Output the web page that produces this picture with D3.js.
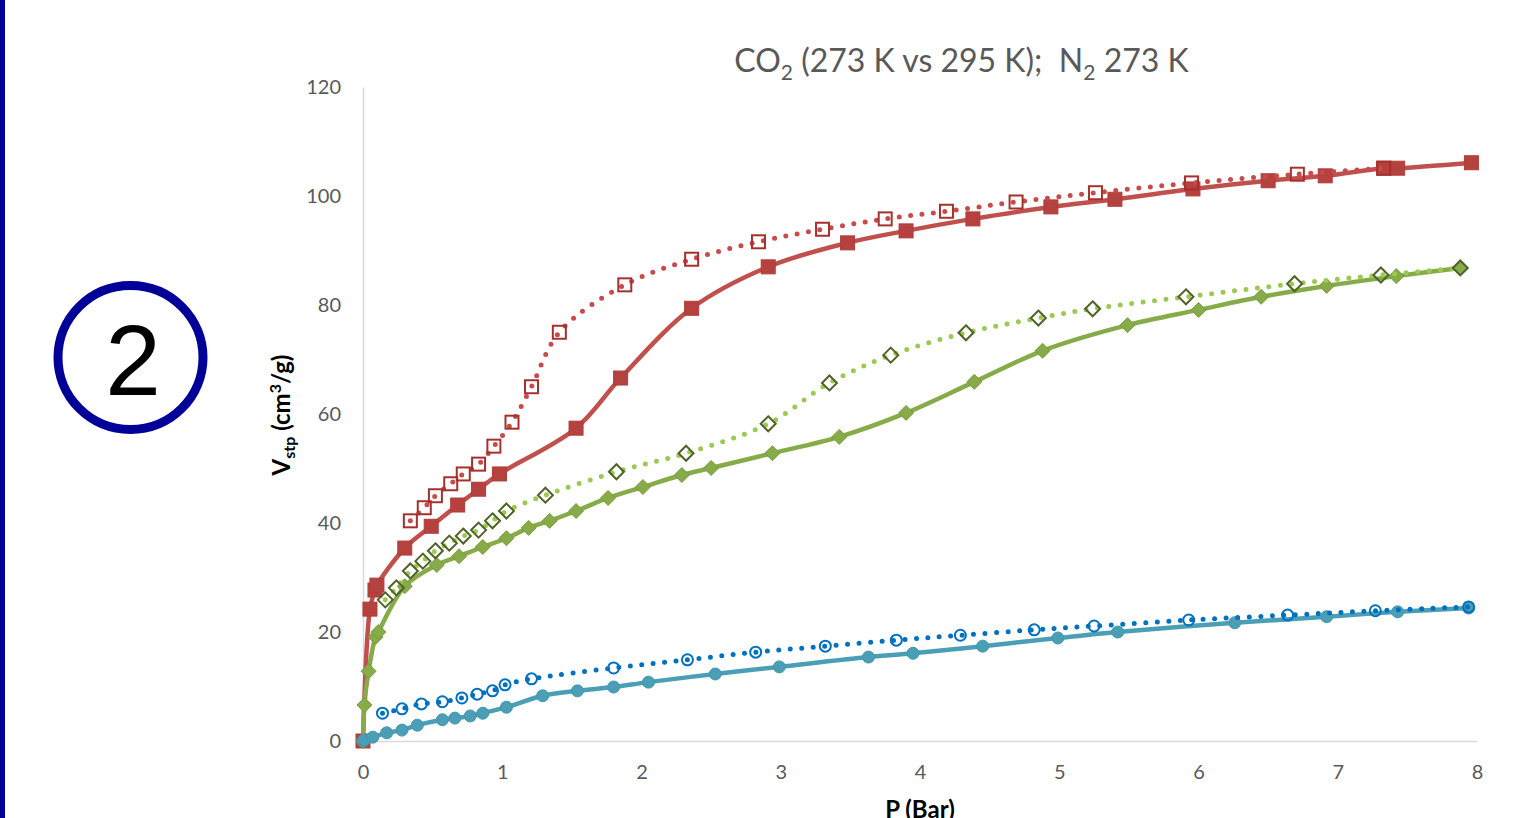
<!DOCTYPE html>
<html>
<head>
<meta charset="utf-8">
<script src="https://cdn.jsdelivr.net/npm/d3@7"></script>
<style>
  body { margin: 0; background: #fff; }
  svg { display: block; }
  text { font-family: Lato, "Open Sans", sans-serif; }
</style>
</head>
<body>
<div id="chart"></div>
<script>
// CO2 at the lower temperature (open squares, dotted) and the higher one (filled squares)
var redSolidX = [0, 0.05, 0.086, 0.1, 0.30, 0.49, 0.68, 0.83, 0.98, 1.53, 1.85, 2.36, 2.91, 3.48, 3.90, 4.38, 4.94, 5.40, 5.96, 6.50, 6.91, 7.33, 7.43, 7.96];
var redSolidY = [0, 24.2, 27.7, 28.6, 35.4, 39.4, 43.3, 46.2, 49.0, 57.4, 66.6, 79.4, 87.0, 91.4, 93.6, 95.8, 98.0, 99.4, 101.3, 102.8, 103.7, 105.1, 105.1, 106.1];
var redDotX = [0.34, 0.44, 0.52, 0.63, 0.72, 0.83, 0.94, 1.07, 1.21, 1.41, 1.88, 2.36, 2.84, 3.30, 3.75, 4.19, 4.69, 5.26, 5.95, 6.71, 7.33];
var redDotY = [40.4, 42.8, 45.0, 47.2, 49.0, 50.8, 54.1, 58.5, 65.0, 75.0, 83.7, 88.4, 91.6, 93.9, 95.8, 97.2, 98.9, 100.6, 102.4, 104.0, 105.1];

var greenSolidX = [0, 0.01, 0.04, 0.09, 0.11, 0.30, 0.53, 0.69, 0.86, 1.03, 1.19, 1.34, 1.53, 1.76, 2.01, 2.29, 2.50, 2.94, 3.42, 3.90, 4.39, 4.88, 5.49, 6.00, 6.45, 6.92, 7.42, 7.88];
var greenSolidY = [0, 6.6, 12.8, 19.1, 20.0, 28.4, 32.3, 33.9, 35.6, 37.2, 39.1, 40.4, 42.2, 44.6, 46.6, 48.8, 50.1, 52.8, 55.8, 60.2, 65.9, 71.6, 76.3, 79.1, 81.5, 83.5, 85.3, 86.8];
var greenDotX = [0.16, 0.24, 0.34, 0.43, 0.52, 0.62, 0.72, 0.83, 0.93, 1.03, 1.31, 1.82, 2.32, 2.91, 3.35, 3.79, 4.33, 4.85, 5.24, 5.91, 6.69, 7.31, 7.88];
var greenDotY = [25.9, 28.1, 31.2, 33.0, 34.9, 36.3, 37.6, 38.7, 40.4, 42.2, 45.1, 49.4, 52.8, 58.2, 65.7, 70.8, 74.9, 77.6, 79.3, 81.5, 83.9, 85.5, 86.8];

// N2 273 K
var blueSolidX = [0, 0.01, 0.07, 0.17, 0.28, 0.39, 0.57, 0.66, 0.77, 0.86, 1.03, 1.29, 1.54, 1.80, 2.05, 2.53, 2.99, 3.63, 3.95, 4.45, 4.99, 5.42, 6.26, 6.92, 7.43, 7.94];
var blueSolidY = [0, 0.2, 0.7, 1.5, 2.0, 2.9, 3.9, 4.2, 4.6, 5.1, 6.2, 8.3, 9.2, 9.9, 10.8, 12.3, 13.6, 15.4, 16.1, 17.4, 18.9, 20.0, 21.7, 22.8, 23.7, 24.4];
var blueDotX = [0.14, 0.28, 0.42, 0.57, 0.71, 0.82, 0.93, 1.02, 1.21, 1.80, 2.33, 2.82, 3.32, 3.83, 4.29, 4.82, 5.25, 5.93, 6.64, 7.27, 7.94];
var blueDotY = [5.1, 5.9, 6.8, 7.2, 7.9, 8.6, 9.2, 10.3, 11.4, 13.4, 14.9, 16.3, 17.4, 18.5, 19.4, 20.4, 21.1, 22.2, 23.1, 23.9, 24.6];

var xTicks = [0, 1, 2, 3, 4, 5, 6, 7, 8];
var yTicks = [0, 20, 40, 60, 80, 100, 120];

var W = 1521, H = 818;
var svg = d3.select("#chart").append("svg").attr("width", W).attr("height", H);

// blue frame edge on the left
svg.append("rect").attr("x", 0).attr("y", 0).attr("width", 5).attr("height", H).attr("fill", "#00009a");

// circled number
svg.append("ellipse").attr("cx", 130.5).attr("cy", 357.5).attr("rx", 72.5).attr("ry", 72)
  .attr("fill", "none").attr("stroke", "#000099").attr("stroke-width", 9);
svg.append("text").attr("x", 133).attr("y", 395).attr("text-anchor", "middle")
  .style("font-family", "'Liberation Sans', Arial, sans-serif").style("font-size", "100px")
  .attr("fill", "#000").text("2");

var x = d3.scaleLinear().domain([0, 8]).range([363, 1477]);
var y = d3.scaleLinear().domain([0, 120]).range([741, 87]);

// axes
var gx = svg.append("g").attr("transform", "translate(0,741)")
  .call(d3.axisBottom(x).tickValues(xTicks).tickSize(0).tickPadding(22).tickFormat(d3.format("d")));
var gy = svg.append("g").attr("transform", "translate(363,0)")
  .call(d3.axisLeft(y).tickValues(yTicks).tickSize(0).tickPadding(22).tickFormat(d3.format("d")));
[gx, gy].forEach(function(g) {
  g.select(".domain").attr("stroke", "#d9d9d9").attr("stroke-width", 1.5);
  g.selectAll("text").attr("fill", "#595959").style("font-size", "20px").style("font-family", "Lato, sans-serif");
});
gx.selectAll("text").attr("dy", "0.35em").attr("y", 31);

// title
var title = svg.append("text").attr("x", 961.5).attr("y", 72).attr("text-anchor", "middle")
  .attr("fill", "#595959").style("font-size", "32px");
title.append("tspan").text("CO");
title.append("tspan").attr("dy", 8).style("font-size", "21px").text("2");
title.append("tspan").attr("dy", -8).text(" (273 K vs 295 K);\u00a0 N");
title.append("tspan").attr("dy", 8).style("font-size", "21px").text("2");
title.append("tspan").attr("dy", -8).text(" 273 K");

// axis titles
svg.append("text").attr("x", 920).attr("y", 818).attr("text-anchor", "middle")
  .attr("fill", "#000").style("font-size", "24px").style("font-weight", "bold").text("P (Bar)");
var yl = svg.append("text").attr("transform", "translate(290,415) rotate(-90)").attr("text-anchor", "middle")
  .attr("fill", "#000").style("font-size", "24px").style("font-weight", "bold");
yl.append("tspan").text("V");
yl.append("tspan").attr("dy", 5).style("font-size", "16px").text("stp");
yl.append("tspan").attr("dy", -5).text(" (cm");
yl.append("tspan").attr("dy", -9).style("font-size", "16px").text("3");
yl.append("tspan").attr("dy", 9).text("/g)");

function pts(xs, ys) { return xs.map(function(v, i) { return [v, ys[i]]; }); }

var line = d3.line().x(function(d) { return x(d[0]); }).y(function(d) { return y(d[1]); })
  .curve(d3.curveCatmullRom.alpha(0.5));

function drawLine(data, color, dotted) {
  var p = svg.append("path").datum(data).attr("d", line).attr("fill", "none")
    .attr("stroke", color).attr("stroke-width", dotted ? 5 : 4.5);
  if (dotted) p.attr("stroke-dasharray", "0 11.5").attr("stroke-linecap", "round");
  else p.attr("stroke-linejoin", "round");
}

var series = [
  { d: pts(redSolidX, redSolidY), line: "#c0504d", dotted: false, mark: "square", fill: "#b5423f", stroke: "#b03d3a", size: 14 },
  { d: pts(redDotX, redDotY), line: "#c84a4a", dotted: true, mark: "square", fill: "none", stroke: "#a5302d", size: 13 },
  { d: pts(greenSolidX, greenSolidY), line: "#86ab48", dotted: false, mark: "diamond", fill: "#86ab48", stroke: "#7a9c40", size: 15 },
  { d: pts(greenDotX, greenDotY), line: "#9bc952", dotted: true, mark: "diamond", fill: "none", stroke: "#4f6228", size: 15 },
  { d: pts(blueSolidX, blueSolidY), line: "#4a9fb6", dotted: false, mark: "circle", fill: "#4a9fb6", stroke: "#4497ad", size: 13 },
  { d: pts(blueDotX, blueDotY), line: "#0070c0", dotted: true, mark: "circle", fill: "none", stroke: "#0070c0", size: 13 }
];

series.forEach(function(s) {
  drawLine(s.d, s.line, s.dotted);
  var g = svg.append("g");
  var m = g.selectAll(".m").data(s.d).enter();
  var sw = s.fill === "none" ? 2 : 1;
  if (s.mark === "circle") {
    m.append("circle").attr("cx", function(d) { return x(d[0]); }).attr("cy", function(d) { return y(d[1]); })
      .attr("r", s.size / 2 - sw / 2).attr("fill", s.fill).attr("stroke", s.stroke).attr("stroke-width", sw);
  } else if (s.mark === "square") {
    m.append("rect").attr("x", function(d) { return x(d[0]) - s.size / 2; }).attr("y", function(d) { return y(d[1]) - s.size / 2; })
      .attr("width", s.size).attr("height", s.size).attr("fill", s.fill).attr("stroke", s.stroke).attr("stroke-width", sw);
  } else {
    var h = s.size / 2;
    m.append("path").attr("transform", function(d) { return "translate(" + x(d[0]) + "," + y(d[1]) + ")"; })
      .attr("d", "M0," + (-h) + "L" + h + ",0L0," + h + "L" + (-h) + ",0Z")
      .attr("fill", s.fill).attr("stroke", s.stroke).attr("stroke-width", sw);
  }
});
</script>
</body>
</html>
